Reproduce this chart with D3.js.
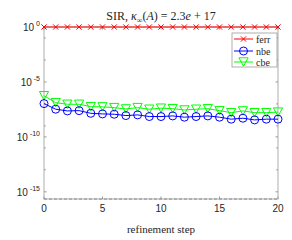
<!DOCTYPE html>
<html><head><meta charset="utf-8">
<script src="https://cdn.jsdelivr.net/npm/d3@7"></script>
<style>body{margin:0;background:#fff}svg{display:block}</style>
</head><body>
<svg id="c" width="292" height="240"></svg>
<script>
const steps = d3.range(0, 21);
const ferr = [1,1,1,1,1,1,1,1,1,1,1,1,1,1,1,1,1,1,1,1,1];
const nbe = [1.07e-7,3.3e-8,2.3e-8,2.45e-8,1.4e-8,1.23e-8,1.15e-8,8.7e-9,1.0e-8,7.1e-9,7.1e-9,8.1e-9,6.2e-9,7.1e-9,8.1e-9,6.2e-9,4.1e-9,5.0e-9,3.5e-9,4.1e-9,4.1e-9];
const cbe = [5.6e-7,1.3e-7,9.3e-8,9.3e-8,5.6e-8,5.4e-8,4.6e-8,3.5e-8,4.6e-8,3.3e-8,4.1e-8,3.7e-8,2.8e-8,3.3e-8,3.7e-8,2.45e-8,1.6e-8,2.3e-8,1.6e-8,1.6e-8,1.8e-8];
const epsLine = 2.22e-16;
const xTicks = [0,5,10,15,20];
const yMajor = [0,-5,-10,-15];
const yMinor = [-1,-3,-7,-9,-11,-13];
const legendLabels = ["ferr","nbe","cbe"];

const svg = d3.select("#c");
const L=44, R=278, T=27, B=199;
const x = d3.scaleLinear().domain([0,20]).range([L,R]);
const y = d3.scaleLog().domain([epsLine,1]).range([B,T]);
const axisCol = "#262626";
const serif = "'Liberation Serif','DejaVu Serif',serif";
const sans = "'Liberation Sans','DejaVu Sans',sans-serif";

// box
const g = svg.append("g");
g.append("rect").attr("x",L).attr("y",T).attr("width",R-L).attr("height",B-T)
 .attr("fill","none").attr("stroke","#999").attr("stroke-width",0.8);

// x ticks
xTicks.forEach(t=>{
  g.append("line").attr("x1",x(t)).attr("x2",x(t)).attr("y1",B).attr("y2",B-2.5).attr("stroke","#999");
  g.append("line").attr("x1",x(t)).attr("x2",x(t)).attr("y1",T).attr("y2",T+2.5).attr("stroke","#999");
  g.append("text").attr("x",x(t)).attr("y",B+13).attr("text-anchor","middle")
   .attr("font-family",sans).attr("font-size",10).attr("fill",axisCol).text(t);
});
// y ticks
yMajor.concat(yMinor).forEach(e=>{
  const v = Math.pow(10,e);
  const len = yMajor.includes(e)?2.5:1.8;
  g.append("line").attr("x1",L).attr("x2",L+len).attr("y1",y(v)).attr("y2",y(v)).attr("stroke","#999");
  g.append("line").attr("x1",R).attr("x2",R-len).attr("y1",y(v)).attr("y2",y(v)).attr("stroke","#999");
});
yMajor.forEach(e=>{
  const t = g.append("text").attr("x",L-4).attr("y",y(Math.pow(10,e))+4).attr("text-anchor","end")
   .attr("font-family",sans).attr("font-size",10).attr("fill",axisCol);
  t.append("tspan").text("10");
  t.append("tspan").attr("font-size",7).attr("dy",-5).text(" "+ (e===0?"0":"-"+(-e)));
});

// eps dashed line
g.append("line").attr("x1",L).attr("x2",R).attr("y1",y(epsLine)).attr("y2",y(epsLine))
 .attr("stroke","#888").attr("stroke-width",1).attr("stroke-dasharray","3,2");

const line = d3.line().x((d,i)=>x(steps[i])).y(d=>y(d));
function cross(sel, cx, cy, col){
  const s=2.6;
  sel.append("path").attr("d",`M${cx-s},${cy-s}L${cx+s},${cy+s}M${cx-s},${cy+s}L${cx+s},${cy-s}`)
   .attr("stroke",col).attr("stroke-width",1).attr("fill","none");
}
function circ(sel,cx,cy,col){
  sel.append("circle").attr("cx",cx).attr("cy",cy).attr("r",4).attr("fill","none").attr("stroke",col).attr("stroke-width",1);
}
function tri(sel,cx,cy,col){
  const w=4.6,h=4.2;
  sel.append("path").attr("d",`M${cx-w},${cy-h}L${cx+w},${cy-h}L${cx},${cy+h}Z`)
   .attr("fill","none").attr("stroke",col).attr("stroke-width",1);
}
const series = [
  {data:cbe,col:"#00ff00",m:tri},
  {data:nbe,col:"#0000ff",m:circ},
  {data:ferr,col:"#ff0000",m:cross}
];
series.forEach(s=>{
  g.append("path").datum(s.data).attr("d",line).attr("fill","none").attr("stroke",s.col).attr("stroke-width",1);
  s.data.forEach((v,i)=>s.m(g,x(steps[i]),y(v),s.col));
});

// legend
const lg = svg.append("g");
lg.append("rect").attr("x",232).attr("y",33).attr("width",45).attr("height",34)
 .attr("fill","#fff").attr("stroke","#999").attr("stroke-width",0.8);
const legCols = ["#ff0000","#0000ff","#00ff00"];
const legM = [cross,circ,tri];
[39,51,62].forEach((ly,i)=>{
  lg.append("line").attr("x1",234).attr("x2",253).attr("y1",ly).attr("y2",ly).attr("stroke",legCols[i]).attr("stroke-width",1);
  legM[i](lg,243.5,ly,legCols[i]);
  lg.append("text").attr("x",256).attr("y",ly+3.5).attr("font-family",serif).attr("font-size",10)
   .attr("fill",axisCol).text(legendLabels[i]);
});

// title
const tt = svg.append("text").attr("x",161).attr("y",20).attr("text-anchor","middle")
 .attr("font-family",serif).attr("font-size",12).attr("fill",axisCol);
tt.append("tspan").text("SIR,  ");
tt.append("tspan").attr("font-style","italic").text("κ");
tt.append("tspan").attr("font-size",8).attr("dy",3).text("∞");
tt.append("tspan").attr("dy",-3).text("(");
tt.append("tspan").attr("font-style","italic").text("A");
tt.append("tspan").text(") = 2.3");
tt.append("tspan").attr("font-style","italic").text("e");
tt.append("tspan").text(" + 17");

// x label
svg.append("text").attr("x",161).attr("y",233).attr("text-anchor","middle")
 .attr("font-family",serif).attr("font-size",11).attr("fill",axisCol).text("refinement step");
</script>
</body></html>
